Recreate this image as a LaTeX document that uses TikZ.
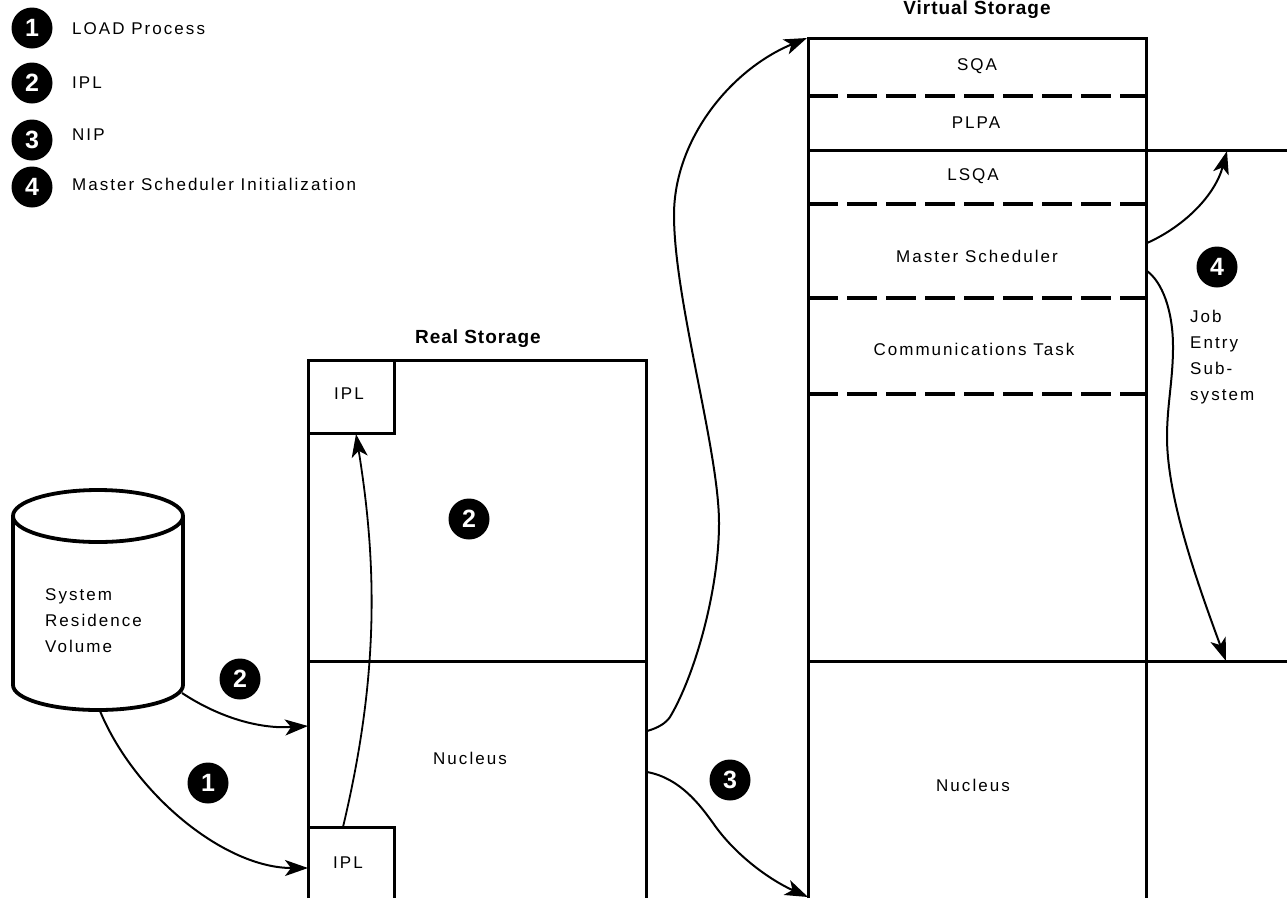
\documentclass[tikz,border=0pt]{standalone}
\usepackage{fontspec}
\setmainfont{Liberation Sans}
\usetikzlibrary{arrows.meta}
\tikzset{
  x=1pt,y=-1pt,
  badge/.style={circle,fill=black,text=white,inner sep=0pt,minimum size=41pt,font=\fontsize{25}{25}\selectfont\bfseries},
  lbl/.style={inner sep=0pt,font=\fontsize{17}{19}\selectfont\addfontfeatures{LetterSpace=12},align=left},
  ttl/.style={inner sep=0pt,font=\fontsize{19}{20}\selectfont\bfseries\addfontfeatures{LetterSpace=5}},
  heavy/.style={line width=3pt},
  dashline/.style={line width=3.4pt,dash pattern=on 30pt off 9pt},
  flow/.style={line width=2pt,-{Stealth[length=23pt,width=16pt,inset=6pt]}},
  thinflow/.style={line width=1.8pt,-{Stealth[length=23pt,width=16pt,inset=6pt]}},
}
\begin{document}
\begin{tikzpicture}
\useasboundingbox (0,0) rectangle (1287,898);
% legend
\node[badge] (k1) at (32,28) {1};
\node[badge] (k2) at (32,83) {2};
\node[badge] (k3) at (32,140) {3};
\node[badge] (k4) at (32,187) {4};
\node[lbl,anchor=west] (t1) at (72,29) {LOAD Process};
\node[lbl,anchor=west] (t2) at (72,83) {IPL};
\node[lbl,anchor=west] (t3) at (72,135) {NIP};
\node[lbl,anchor=west] (t4) at (72,184) {Master Scheduler Initialization};
% cylinder
\draw[line width=3.8pt] (13,516) -- (13,685) arc[start angle=180,end angle=0,x radius=85,y radius=25] -- (183,516);
\draw[line width=3.8pt] (98,516) ellipse[x radius=85,y radius=26];
\coordinate (cylA) at (100,711);
\coordinate (cylB) at (182,693);
\node[lbl,anchor=west] (sysres) at (45,621) {System\\[7pt]Residence\\[7pt]Volume};
% real storage
\node[ttl] (rstitle) at (478,339) {Real Storage};
\draw[heavy] (308,898) -- (308,360) -- (646,360) -- (646,898);
\draw[heavy] (308,661) -- (646,661);
\draw[heavy] (308,433) -- (394,433) -- (394,360);
\draw[heavy] (308,827) -- (394,827) -- (394,898);
\node[lbl] (iplT) at (349,394) {IPL};
\node[lbl] (iplB) at (348,863) {IPL};
\node[lbl] (nucR) at (470,758) {Nucleus};
\node[badge] (b2a) at (469,519) {2};
\node[badge] (b2b) at (240,679) {2};
\node[badge] (b1) at (208,783) {1};
\node[badge] (b3) at (730,780) {3};
% virtual storage
\node[ttl] (vstitle) at (977,10) {Virtual Storage};
\draw[heavy] (808,898) -- (808,38) -- (1146,38) -- (1146,898);
\draw[dashline] (808,96) -- (1146,96);
\draw[heavy] (808,150) -- (1287,150);
\draw[dashline] (808,204) -- (1146,204);
\draw[dashline] (808,298) -- (1146,298);
\draw[dashline] (808,394) -- (1146,394);
\draw[heavy] (808,661) -- (1287,661);
\node[lbl] (sqa) at (977,66) {SQA};
\node[lbl] (plpa) at (976,123) {PLPA};
\node[lbl] (lsqa) at (973,176) {LSQA};
\node[lbl] (ms) at (977,256) {Master Scheduler};
\node[lbl] (ct) at (974,349) {Communications Task};
\node[lbl] (nucV) at (973,785) {Nucleus};
\node[badge] (b4) at (1217,267) {4};
\node[lbl,anchor=north west] (jes) at (1190,310) {Job\\[7pt]Entry\\[7pt]Sub-\\[7pt]system};
% connector anchors
\coordinate (r1) at (308,868);
\coordinate (r2) at (308,726);
\coordinate (ipl1) at (343,827);
\coordinate (ipl2) at (356,434);
\coordinate (n1) at (647,731);
\coordinate (v1) at (807,38);
\coordinate (n2) at (647,772);
\coordinate (v2) at (808,897);
\coordinate (m1) at (1147,243);
\coordinate (m2) at (1227,151);
\coordinate (m3) at (1147,271);
\coordinate (m4) at (1226,661);
% connectors
\draw[flow] (cylA) .. controls (135,795) and (225,868) .. (r1);
\draw[flow] (cylB) .. controls (220,718) and (260,729) .. (r2);
\draw[thinflow] (ipl1) .. controls (378,680) and (378,570) .. (ipl2);
\draw[flow] (n1) .. controls (658,728) and (666,723) .. (670,717)
  .. controls (695,675) and (719,590) .. (719,523)
  .. controls (719,450) and (674,300) .. (674,215)
  .. controls (674,140) and (730,70) .. (v1);
\draw[flow] (n2) .. controls (680,778) and (700,805) .. (713,823)
  .. controls (735,855) and (770,880) .. (v2);
\draw[flow] (m1) .. controls (1185,226) and (1215,195) .. (m2);
\draw[flow] (m3) .. controls (1162,282) and (1173,310) .. (1173,347)
  .. controls (1173,380) and (1167,405) .. (1167,437)
  .. controls (1167,500) and (1200,590) .. (m4);
\end{tikzpicture}
\end{document}
